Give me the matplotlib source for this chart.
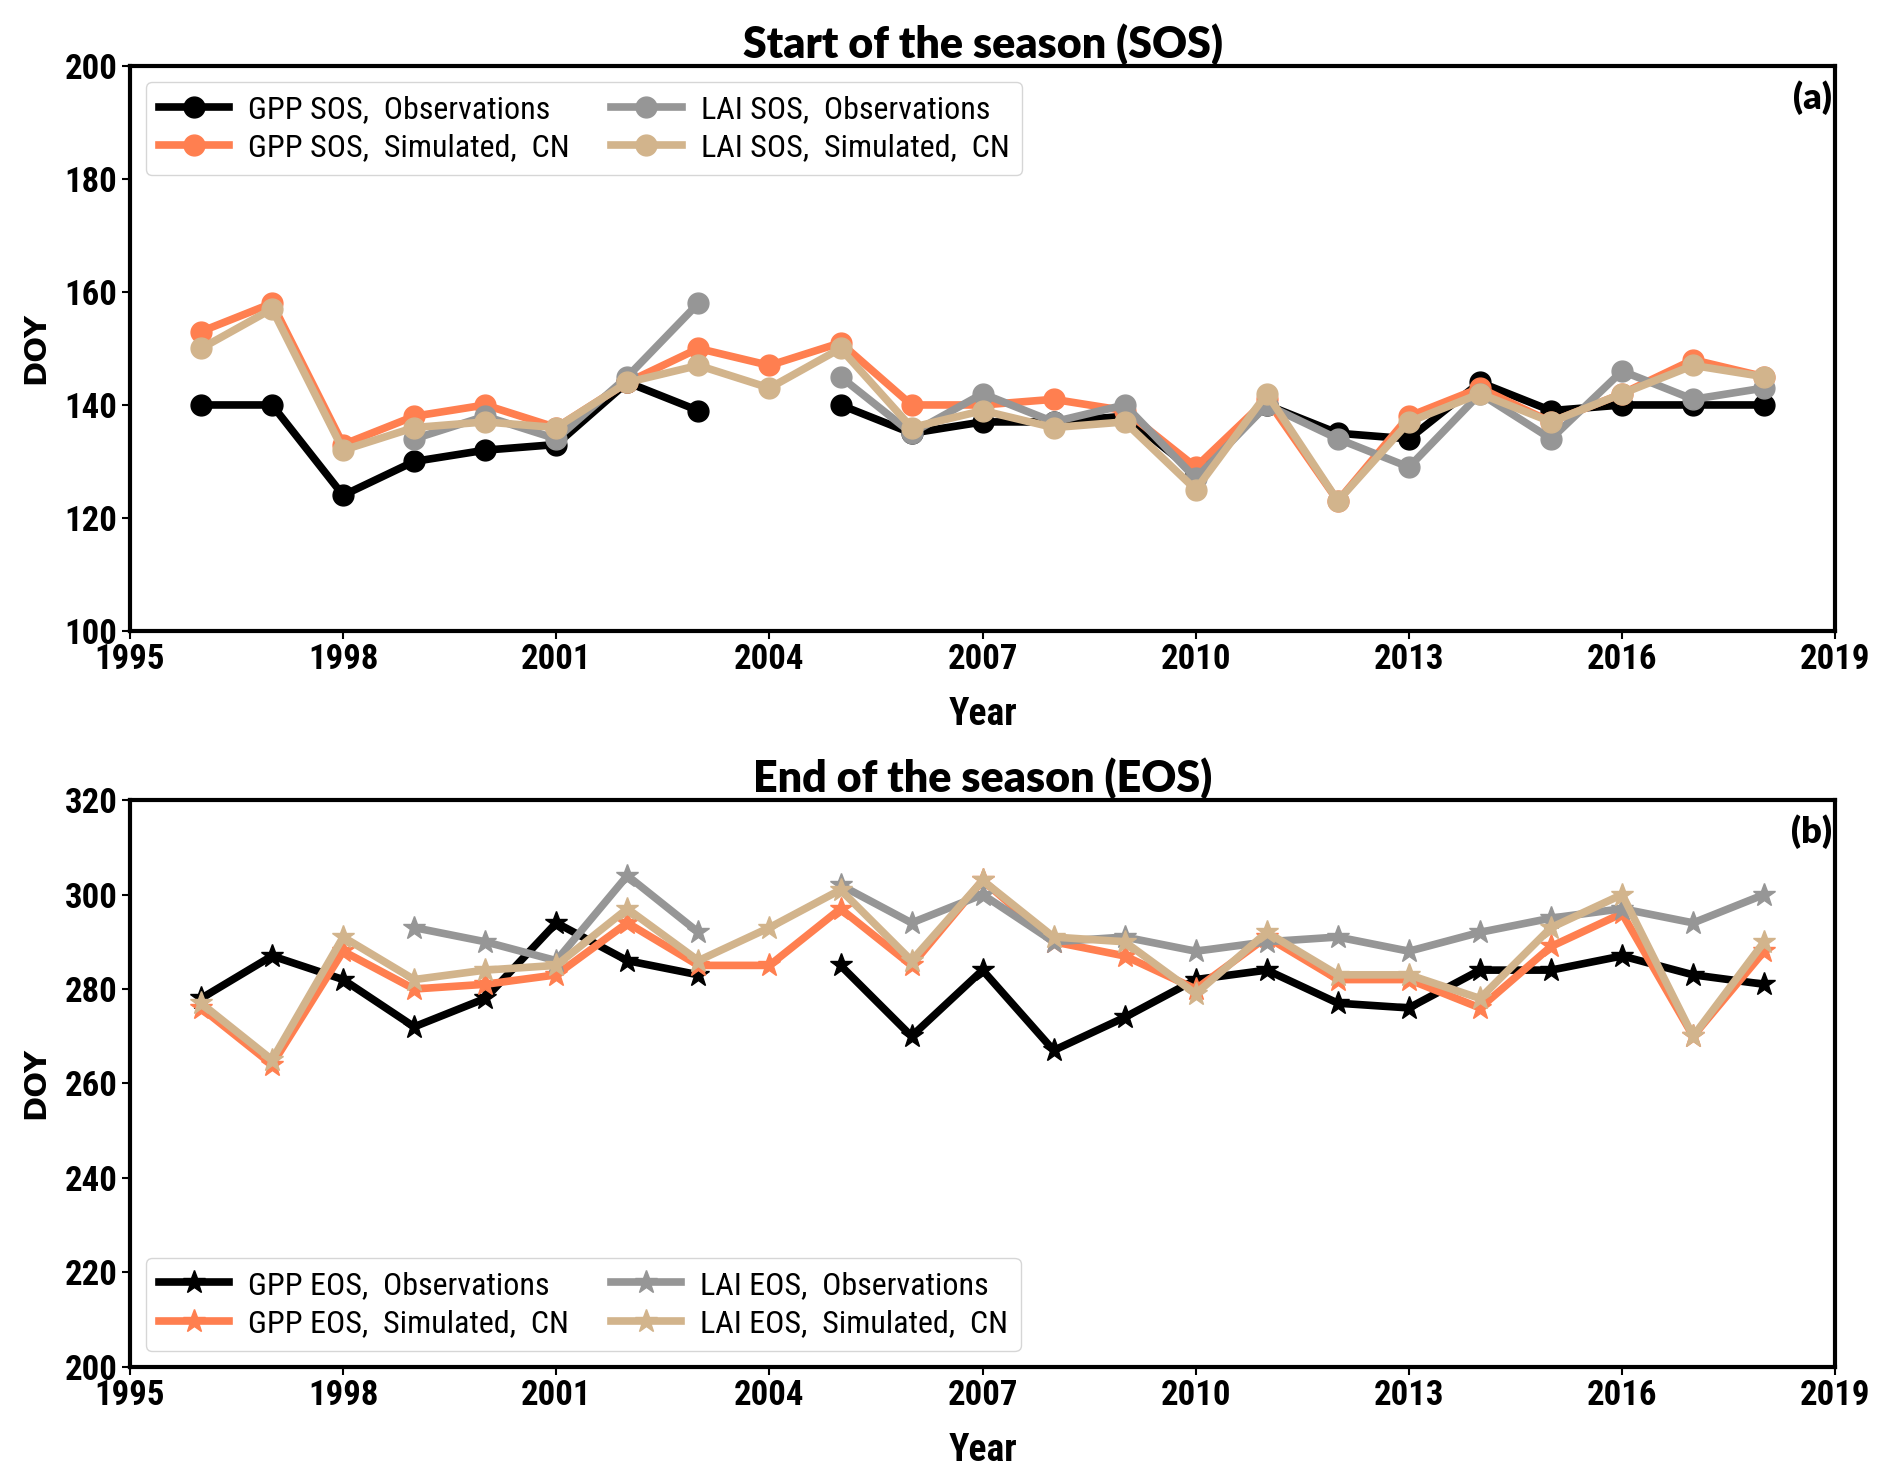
import numpy as np
import matplotlib
matplotlib.use('Agg')
import matplotlib.pyplot as plt
from matplotlib import font_manager

nan = np.nan
years = np.arange(1996, 2019)

# Start of season (DOY)
gpp_sos_obs = [140, 140, 124, 130, 132, 133, 144, 139, nan, 140, 135, 137, 137, 138, 128, 140,
               135, 134, 144, 139, 140, 140, 140]
gpp_sos_sim = [153, 158, 133, 138, 140, 136, 144, 150, 147, 151, 140, 140, 141, 139, 129, 141,
               123, 138, 143, 137, 142, 148, 145]
lai_sos_obs = [nan, nan, nan, 134, 138, 134, 145, 158, nan, 145, 135, 142, 137, 140, 127, 140,
               134, 129, 142, 134, 146, 141, 143]
lai_sos_sim = [150, 157, 132, 136, 137, 136, 144, 147, 143, 150, 136, 139, 136, 137, 125, 142,
               123, 137, 142, 137, 142, 147, 145]

# End of season (DOY)
gpp_eos_obs = [278, 287, 282, 272, 278, 294, 286, 283, nan, 285, 270, 284, 267, 274, 282, 284,
               277, 276, 284, 284, 287, 283, 281]
gpp_eos_sim = [276, 264, 288, 280, 281, 283, 294, 285, 285, 297, 285, 303, 290, 287, 280, 291,
               282, 282, 276, 289, 296, 270, 288]
lai_eos_obs = [nan, nan, nan, 293, 290, 286, 304, 292, nan, 302, 294, 300, 290, 291, 288, 290,
               291, 288, 292, 295, 297, 294, 300]
lai_eos_sim = [277, 265, 291, 282, 284, 285, 297, 286, 293, 301, 286, 303, 291, 290, 279, 292,
               283, 283, 278, 293, 300, 270, 290]

colors = ['black', '#FF7F50', '#969696', '#D2B48C']

# pick a narrow face if one is installed
installed = {f.name for f in font_manager.fontManager.ttflist}
narrow = [n for n in ['Liberation Sans Narrow', 'DejaVu Sans Condensed', 'Roboto Condensed',
                      'Open Sans Condensed', 'Noto Sans Condensed'] if n in installed]
tick_font = (narrow[:1] or ['Roboto']) + ['DejaVu Sans']
head_font = ['Lato', 'DejaVu Sans']

fig = plt.figure(figsize=(18.92, 14.81), dpi=100)
ax1 = fig.add_axes([0.0687, 0.574, 0.9013, 0.3814])
ax2 = fig.add_axes([0.0687, 0.077, 0.9013, 0.3828])

panels = [
    (ax1, 'SOS', [gpp_sos_obs, gpp_sos_sim, lai_sos_obs, lai_sos_sim], 'o', 15,
     (100, 200), 'Start of the season (SOS)', '(a)', 'upper left'),
    (ax2, 'EOS', [gpp_eos_obs, gpp_eos_sim, lai_eos_obs, lai_eos_sim], '*', 17,
     (200, 320), 'End of the season (EOS)', '(b)', 'lower left'),
]
names = ['GPP {},  Observations', 'GPP {},  Simulated,  CN',
         'LAI {},  Observations', 'LAI {},  Simulated,  CN']

for ax, tag, series, mk, ms, ylim, title, letter, loc in panels:
    for vals, c, nm in zip(series, colors, names):
        ax.plot(years, vals, color=c, marker=mk, markersize=ms, linewidth=5.5,
                label=nm.format(tag))
    ax.set_xlim(1995, 2019)
    ax.set_xticks(np.arange(1995, 2020, 3))
    ax.set_ylim(*ylim)
    ax.set_yticks(np.arange(ylim[0], ylim[1] + 1, 20))
    for s in ax.spines.values():
        s.set_linewidth(3)
    ax.tick_params(width=1.5, length=6, pad=3)
    for lab in ax.get_xticklabels() + ax.get_yticklabels():
        lab.set_family(tick_font)
        lab.set_fontsize(25)
        lab.set_fontweight('bold')
    ax.set_title(title, fontsize=31, fontweight='heavy', family=head_font, pad=6)
    ax.set_xlabel('Year', fontsize=27, fontweight='bold', family=tick_font, labelpad=14)
    ax.set_ylabel('DOY', fontsize=22, fontweight='bold', labelpad=10)
    ax.text(0.998, 0.975, letter, transform=ax.transAxes, ha='right', va='top',
            fontsize=26, fontweight='heavy', family=head_font)
    ax.legend(loc=loc, ncol=2, prop={'family': tick_font, 'size': 23},
              handlelength=2.2, handletextpad=0.6, columnspacing=1.3, borderpad=0.4,
              labelspacing=0.3, framealpha=0.8)

fig.savefig('out.png', dpi=100)
